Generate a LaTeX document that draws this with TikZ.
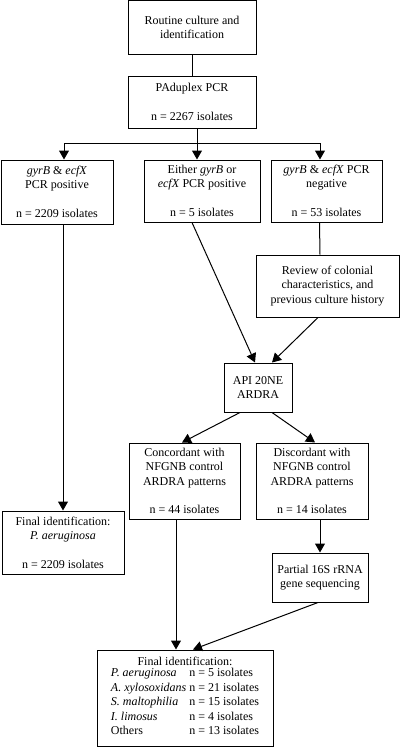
\documentclass[tikz,border=0pt]{standalone}
\usepackage{fontspec}
\setmainfont{Liberation Serif}
\usetikzlibrary{arrows.meta}

\begin{document}
\begin{tikzpicture}[x=1pt,y=-1pt,
		every node/.style={font=\fontsize{12pt}{14.4pt}\selectfont},
		stage/.style={draw,line width=1pt,align=center,inner sep=0pt},
		link/.style={line width=1pt},
		arr/.style={line width=1pt,-{Triangle[width=10pt,length=9pt]}}]
		\useasboundingbox (0,0) rectangle (400,747);
		\node[stage,minimum width=128pt,minimum height=54pt] (routine) at (192,27.5) {Routine culture and\\identification};
		\node[stage,minimum width=128pt,minimum height=52pt] (pcr) at (192,102) {PAduplex PCR\\[14.4pt]n = 2267 isolates};
		\node[stage,minimum width=112pt,minimum height=64pt] (pos) at (57,192) {\textit{gyrB} \& \textit{ecfX}\\PCR positive\\[14.4pt]n = 2209 isolates};
		\node[stage,minimum width=116pt,minimum height=62pt] (either) at (202,191) {Either \textit{gyrB} or\\\textit{ecfX} PCR positive\\[14.4pt]n = 5 isolates};
		\node[stage,minimum width=111pt,minimum height=62pt] (neg) at (326.5,191) {\textit{gyrB} \& \textit{ecfX} PCR\\negative\\[14.4pt]n = 53 isolates};
		\node[stage,minimum width=143pt,minimum height=62pt] (review) at (327.5,286) {Review of colonial\\characteristics, and\\previous culture history};
		\node[stage,minimum width=68pt,minimum height=49pt] (api) at (258,387.5) {API 20NE\\ARDRA};
		\node[stage,minimum width=111pt,minimum height=76pt] (conc) at (184.5,481) {Concordant with\\NFGNB control\\ARDRA patterns\\[14.4pt]n = 44 isolates};
		\node[stage,minimum width=112pt,minimum height=76pt] (disc) at (312,481) {Discordant with\\NFGNB control\\ARDRA patterns\\[14.4pt]n = 14 isolates};
		\node[stage,minimum width=122pt,minimum height=63pt] (fleft) at (63,542.5) {Final identification:\\\textit{P. aeruginosa}\\[14.4pt]n = 2209 isolates};
		\node[stage,minimum width=96pt,minimum height=49pt] (seq) at (320,577.5) {Partial 16S rRNA\\gene sequencing};
		\node[stage,minimum width=176pt,minimum height=96pt] (final) at (185,698) {Final identification:\\
			\begin{tabular}{@{}l@{\hspace{3pt}}l@{}}
				\textit{P. aeruginosa} & n = 5 isolates\\
				\textit{A. xylosoxidans} & n = 21 isolates\\
				\textit{S. maltophilia} & n = 15 isolates\\
				\textit{I. limosus} & n = 4 isolates\\
				Others & n = 13 isolates
			\end{tabular}};
		% split below the duplex PCR
		\coordinate (split) at (197,143);
		\coordinate (jl) at (64,143);
		\coordinate (jr) at (320,143);
		\draw[link] (routine) -- (pcr);
		\draw[link] (split |- pcr.south) -- (split);
		\draw[link] (jl) -- (jr);
		\draw[arr] (jl) -- (jl |- pos.north);
		\draw[arr] (split) -- (split |- either.north);
		\draw[arr] (jr) -- (jr |- neg.north);
		% second level
		\draw[link] ([xshift=-7pt]neg.south) -- ([xshift=-7.5pt]review.north);
		\draw[arr] ([xshift=-10pt]either.south) -- ([xshift=-3pt]api.north);
		\draw[arr] ([xshift=-9.5pt]review.south) -- ([xshift=14pt]api.north);
		\draw[arr] ([xshift=-18pt]api.south) -- ([xshift=-2.5pt]conc.north);
		\draw[arr] ([xshift=14pt]api.south) -- ([xshift=3pt]disc.north);
		\draw[arr] (fleft.north |- pos.south) -- (fleft.north);
		\draw[arr] (seq.north |- disc.south) -- (seq.north);
		% into the final box
		\draw[arr] ([xshift=-8.5pt]conc.south) -- ([xshift=-9pt]final.north);
		\draw[arr] ([xshift=-2pt]seq.south) -- ([xshift=8pt]final.north);
	\end{tikzpicture}
\end{document}
